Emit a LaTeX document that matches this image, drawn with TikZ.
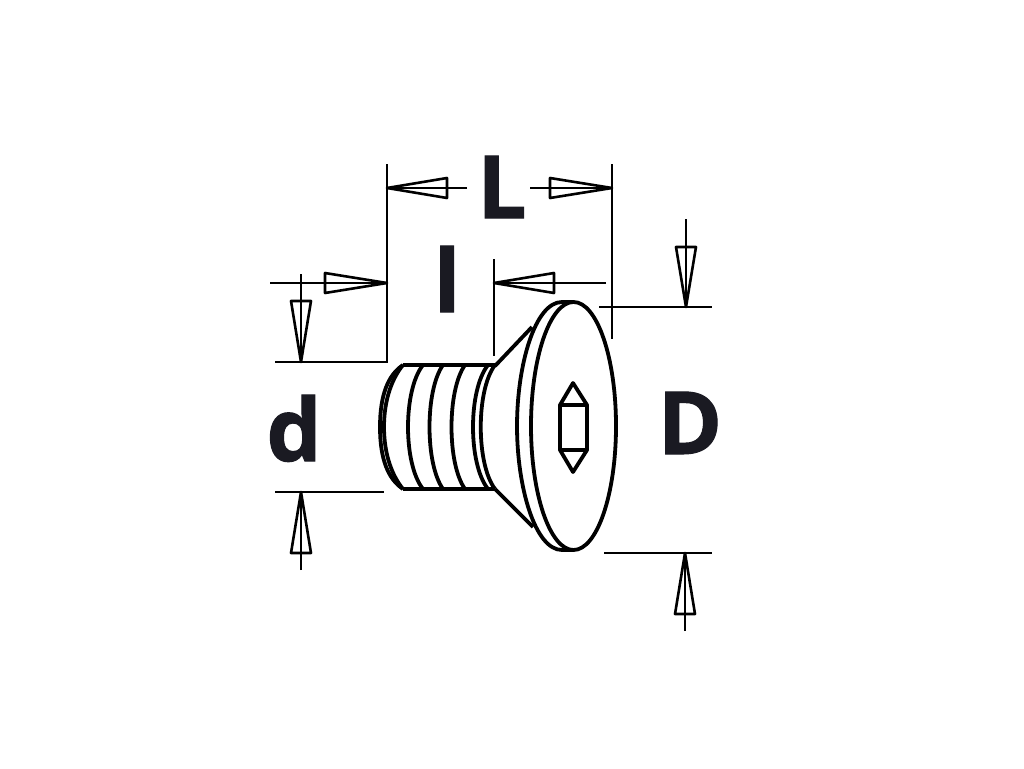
\documentclass[tikz,border=0pt]{standalone}
\usepackage{fontspec}
\setmainfont{Open Sans}[BoldFeatures={FakeBold=1.2}]
\definecolor{fgcolor}{HTML}{000000}
\definecolor{labelcolor}{HTML}{1A1A22}
\def\H{10}
\tikzset{
    dimline/.style={draw=fgcolor,line width=2.6pt},
    boltline/.style={draw=fgcolor,line width=3.8pt,line join=round},
    dimlabel/.style={anchor=base,inner sep=0pt,text=labelcolor,font=\fontsize{87}{87}\selectfont\bfseries}
}
\begin{document}
\begin{tikzpicture}[x=1pt,y=-1pt]
\useasboundingbox (0,0) rectangle (1024,768);
% extension lines
\draw[dimline] (387,164) -- (387,362) -- (275,362);
\draw[dimline] (612,164) -- (612,339);
\draw[dimline] (494,259) -- (494,356);
\draw[dimline] (275,492) -- (384,492);
\draw[dimline] (599,307) -- (712,307);
\draw[dimline] (604,553) -- (712,553);
% horizontal arrows: tip, base, free end, height
\foreach \tip/\base/\free/\y in {387/447/467/188,612/550/530/188,387/325/270/283,494/554/606/283}{
    \draw[dimline] (\free,\y) -- (\tip,\y);
    \draw[dimline,line join=round] (\tip,\y) -- (\base,\y-\H) -- (\base,\y+\H) -- cycle;
}
% vertical arrows: tip, base, free end, position
\foreach \tip/\base/\free/\x in {362/301/274/301,492/553/570/301,307/247/219/686,553/614/631/685}{
    \draw[dimline] (\x,\free) -- (\x,\tip);
    \draw[dimline,line join=round] (\x,\tip) -- (\x-\H,\base) -- (\x+\H,\base) -- cycle;
}
% shank
\draw[boltline] (403,365) -- (495,365);
\draw[boltline] (403,489) -- (495,489);
\draw[boltline] (403,365) .. controls (388,375) and (380,395) .. (380,427) .. controls (380,459) and (388,479) .. (403,489);
\draw[boltline] (403,365) .. controls (393,377) and (384,398) .. (384,427) .. controls (384,456) and (393,477) .. (403,489);
% thread rings
\foreach \x/\c in {423/403,443/425,465/447,488/468,495/476}{
    \draw[boltline] (\x,365) .. controls (\c,390) and (\c,464) .. (\x,489);
}
% head
\draw[boltline] (495,366) -- (532,327);
\draw[boltline] (495,489) -- (533,527);
\draw[boltline] (573.5,302) -- (562,302) .. controls (535,302) and (517,365) .. (517,426)
    .. controls (517,487) and (535,550) .. (562,550) -- (573.5,550);
\draw[boltline] (573.5,426) ellipse [x radius=42.5,y radius=124];
% hexagon socket
\draw[boltline] (573,383) -- (587,405) -- (587,450) -- (573,472) -- (560,450) -- (560,405) -- cycle;
\draw[boltline] (560,405) -- (587,405);
\draw[boltline] (560,450) -- (587,450);
% labels
\node[dimlabel] (lenlabel) at (502,218) {L};
\node[dimlabel] (threadlabel) at (447,312) {l};
\node[dimlabel] (shanklabel) at (294,461) {d};
\node[dimlabel] (headlabel) at (690,454) {D};
\end{tikzpicture}
\end{document}
